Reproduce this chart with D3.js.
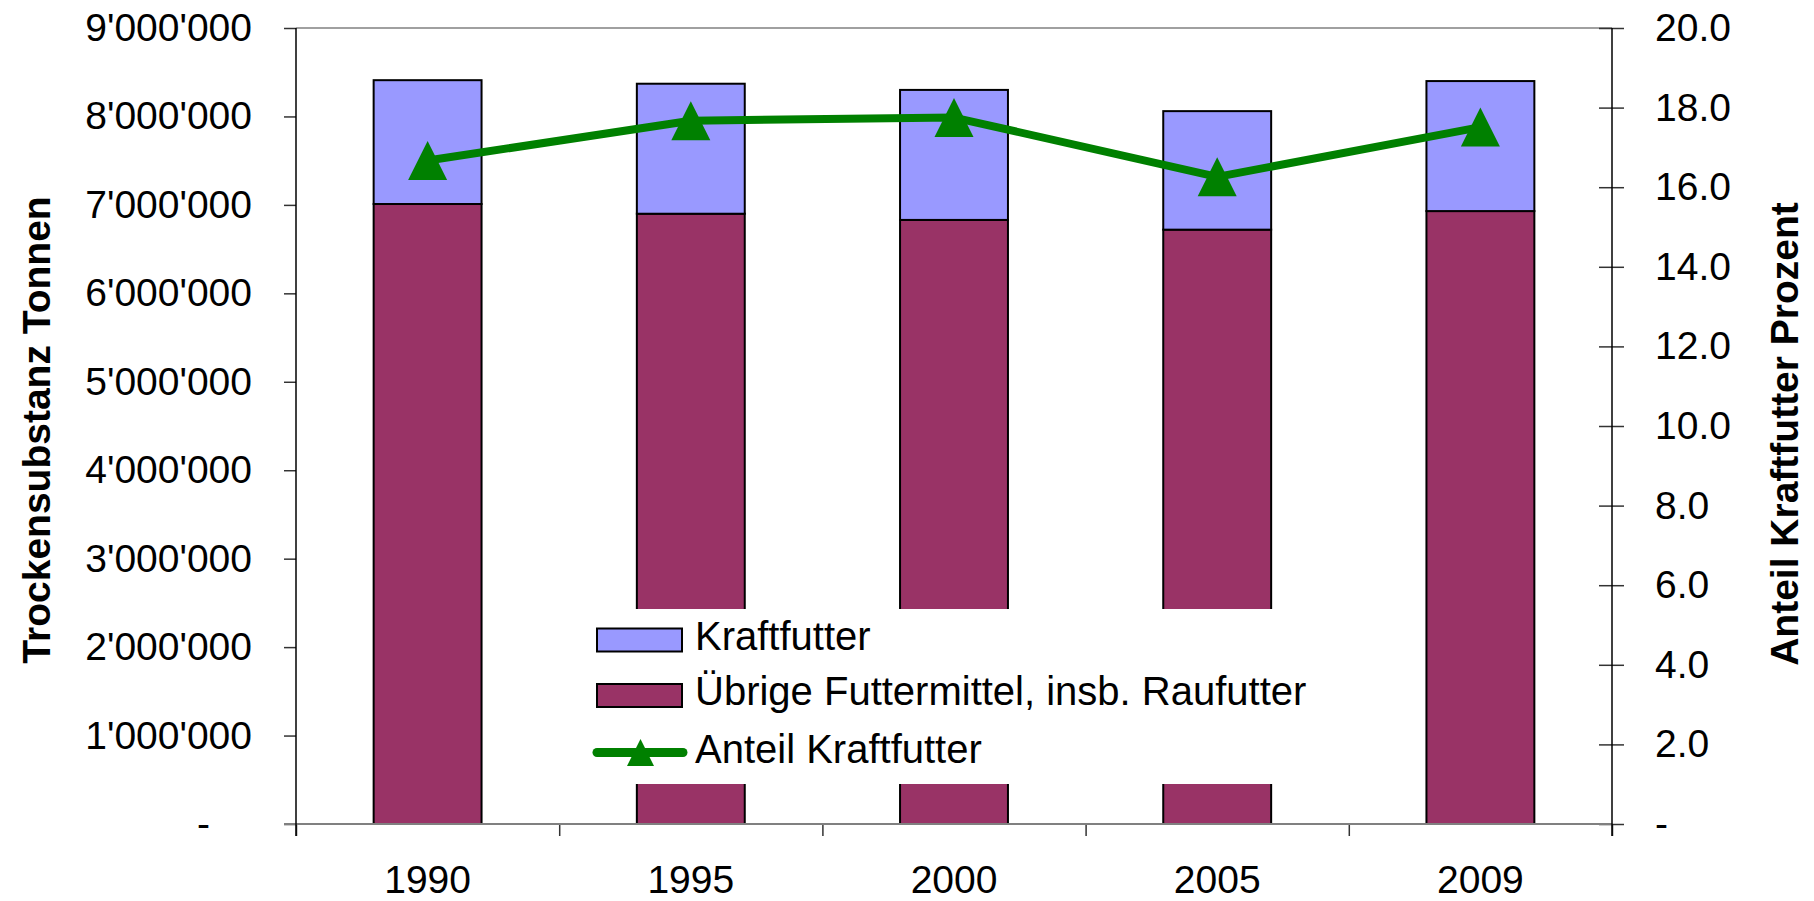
<!DOCTYPE html>
<html>
<head>
<meta charset="utf-8">
<script src="https://cdn.jsdelivr.net/npm/d3@7"></script>
<style>
  body { margin: 0; background: #fff; }
  text { font-family: "Liberation Sans", Arial, sans-serif; fill: #000; }
</style>
</head>
<body>
<div id="chart"></div>
<script>
const years = ["1990", "1995", "2000", "2005", "2009"];
const uebrige = [7010000, 6900000, 6830000, 6720000, 6930000];
const kraftfutter = [1400000, 1470000, 1470000, 1340000, 1470000];
const anteil = [16.67, 17.67, 17.75, 16.26, 17.51];
const leftTicks = [0, 1e6, 2e6, 3e6, 4e6, 5e6, 6e6, 7e6, 8e6, 9e6];
const rightTicks = [0, 2, 4, 6, 8, 10, 12, 14, 16, 18, 20];
const seriesNames = ["Kraftfutter", "Übrige Futtermittel, insb. Raufutter", "Anteil Kraftfutter"];

const width = 1814, height = 901;
const plotL = 296, plotR = 1612, plotT = 28, plotB = 824;
const colKraft = "#9999FF", colUebrige = "#993366", colLine = "#008000";

const svg = d3.select("#chart").append("svg")
  .attr("width", width)
  .attr("height", height);

svg.append("rect").attr("width", width).attr("height", height).attr("fill", "#fff");

const x = d3.scaleBand().domain(years).range([plotL, plotR])
  .paddingInner(0.59).paddingOuter(0.295);
const xEdge = d3.scaleLinear().domain([0, years.length]).range([plotL, plotR]);
const y = d3.scaleLinear().domain([0, 9e6]).range([plotB, plotT]);
const y2 = d3.scaleLinear().domain([0, 20]).range([plotB, plotT]);

// stacked bars
const rows = years.map((yr, i) => ({year: yr, uebrige: uebrige[i], kraft: kraftfutter[i]}));
const stack = d3.stack().keys(["uebrige", "kraft"])(rows);
const fills = {uebrige: colUebrige, kraft: colKraft};

svg.append("g")
  .selectAll("g")
  .data(stack)
  .enter().append("g")
    .attr("fill", d => fills[d.key])
  .selectAll("rect")
  .data(d => d)
  .enter().append("rect")
    .attr("x", d => x(d.data.year))
    .attr("width", x.bandwidth())
    .attr("y", d => y(d[1]))
    .attr("height", d => y(d[0]) - y(d[1]))
    .attr("stroke", "#000")
    .attr("stroke-width", 2);

// top border
svg.append("line")
  .attr("x1", plotL).attr("x2", plotR).attr("y1", plotT).attr("y2", plotT)
  .attr("stroke", "#a0a0a0").attr("stroke-width", 2);

// left axis
const fmtLeft = d => d === 0 ? "-" : d3.format(",")(d).replace(/,/g, "'");
const gL = svg.append("g")
  .attr("transform", `translate(${plotL},0)`)
  .call(d3.axisLeft(y).tickValues(leftTicks).tickSize(12).tickPadding(32).tickFormat(fmtLeft));
gL.select(".domain").remove();
gL.selectAll(".tick line").attr("stroke", "#333").attr("stroke-width", 1.5);
gL.selectAll(".tick text").attr("font-size", 39).attr("font-family", null)
  .attr("dx", d => d === 0 ? -42 : 0);

// right axis
const gR = svg.append("g")
  .attr("transform", `translate(${plotR},0)`)
  .call(d3.axisRight(y2).tickValues(rightTicks).tickSize(12).tickPadding(31)
    .tickFormat(d => d === 0 ? "-" : d3.format(".1f")(d)));
gR.select(".domain").remove();
gR.selectAll(".tick line").attr("x1", -13).attr("stroke", "#333").attr("stroke-width", 1.5);
gR.selectAll(".tick text").attr("font-size", 39).attr("font-family", null);

// x axis: boundary ticks + labels
const gE = svg.append("g")
  .attr("transform", `translate(0,${plotB})`)
  .call(d3.axisBottom(xEdge).ticks(years.length).tickSize(12).tickFormat(""));
gE.select(".domain").remove();
gE.selectAll(".tick line").attr("stroke", "#333").attr("stroke-width", 1.5);

svg.append("line")
  .attr("x1", plotL - 12).attr("x2", plotR).attr("y1", plotB).attr("y2", plotB)
  .attr("stroke", "#808080").attr("stroke-width", 2);

const gX = svg.append("g")
  .attr("transform", `translate(0,${plotB})`)
  .call(d3.axisBottom(x).tickSize(0).tickPadding(41));
gX.select(".domain").remove();
gX.selectAll(".tick text").attr("font-size", 39).attr("font-family", null);

// vertical axis lines
svg.append("line")
  .attr("x1", plotL).attr("x2", plotL).attr("y1", plotT).attr("y2", plotB + 12)
  .attr("stroke", "#000").attr("stroke-width", 1.5);
svg.append("line")
  .attr("x1", plotR).attr("x2", plotR).attr("y1", plotT).attr("y2", plotB + 12)
  .attr("stroke", "#000").attr("stroke-width", 1.5);

// line series
const pts = years.map((yr, i) => [x(yr) + x.bandwidth() / 2, y2(anteil[i])]);
svg.append("path")
  .attr("d", d3.line()(pts))
  .attr("fill", "none")
  .attr("stroke", colLine)
  .attr("stroke-width", 8)
  .attr("stroke-linejoin", "round");

const tri = s => `M0,${-s / 2}L${s / 2},${s / 2}L${-s / 2},${s / 2}Z`;
svg.append("g")
  .selectAll("path")
  .data(pts)
  .enter().append("path")
    .attr("transform", d => `translate(${d[0]},${d[1]})`)
    .attr("d", tri(39))
    .attr("fill", colLine);

// axis titles
svg.append("text")
  .attr("transform", "translate(50,430) rotate(-90)")
  .attr("text-anchor", "middle")
  .attr("font-size", 39).attr("font-weight", "bold")
  .text("Trockensubstanz Tonnen");
svg.append("text")
  .attr("transform", "translate(1798,434) rotate(-90)")
  .attr("text-anchor", "middle")
  .attr("font-size", 39).attr("font-weight", "bold")
  .text("Anteil Kraftfutter Prozent");

// legend
const legend = svg.append("g");
legend.append("rect")
  .attr("x", 588).attr("y", 609).attr("width", 732).attr("height", 175)
  .attr("fill", "#fff");
legend.append("rect")
  .attr("x", 597).attr("y", 628.5).attr("width", 85).attr("height", 23)
  .attr("fill", colKraft).attr("stroke", "#000").attr("stroke-width", 2);
legend.append("rect")
  .attr("x", 597).attr("y", 684).attr("width", 85).attr("height", 23)
  .attr("fill", colUebrige).attr("stroke", "#000").attr("stroke-width", 2);
legend.append("line")
  .attr("x1", 597).attr("x2", 683).attr("y1", 752.5).attr("y2", 752.5)
  .attr("stroke", colLine).attr("stroke-width", 9).attr("stroke-linecap", "round");
legend.append("path")
  .attr("transform", "translate(640.5,752.5)")
  .attr("d", tri(27))
  .attr("fill", colLine);
legend.selectAll("text.leg")
  .data(seriesNames)
  .enter().append("text")
    .attr("class", "leg")
    .attr("x", 695)
    .attr("y", (d, i) => [650, 705, 763][i])
    .attr("font-size", 40)
    .text(d => d);
</script>
</body>
</html>
